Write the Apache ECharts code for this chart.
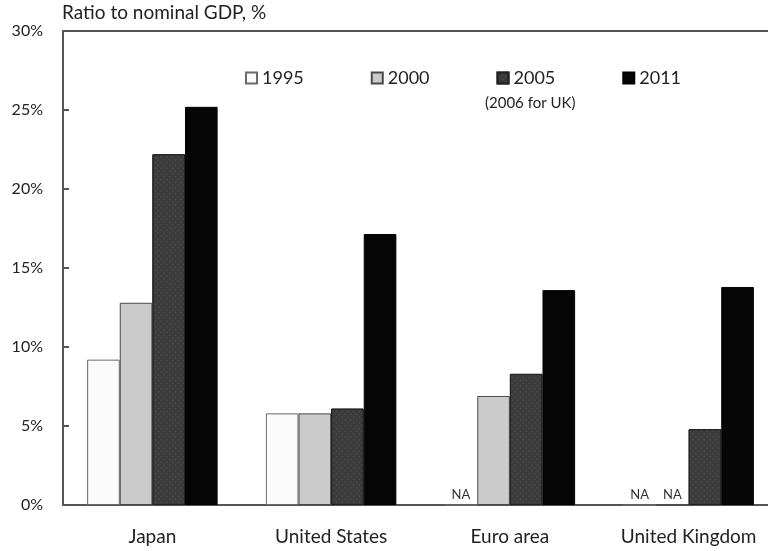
<!DOCTYPE html>
<html><head><meta charset="utf-8">
<script src="https://cdn.jsdelivr.net/npm/echarts@6/dist/echarts.min.js"></script>
<style>html,body{margin:0;padding:0;background:#fff}#c{width:768px;height:551px}</style>
</head><body><div id="c"></div>
<script>
const categories = ['Japan', 'United States', 'Euro area', 'United Kingdom'];
const seriesNames = ['1995', '2000', '2005', '2011'];
const v1995 = [9.2, 5.8, null, null];
const v2000 = [12.8, 5.8, 6.9, null];
const v2005 = [22.2, 6.1, 8.3, 4.8];
const v2011 = [25.2, 17.15, 13.6, 13.8];
const yTicks = [0, 5, 10, 15, 20, 25, 30];

const FONT = 'Lato, "Open Sans", sans-serif';
const styles = [
  {color: '#fbfbfb', borderColor: '#6a6a6a', borderWidth: 1},
  {color: '#cbcbcb', borderColor: '#4a4a4a', borderWidth: 1},
  {color: '#3a3a3a', borderColor: '#222', borderWidth: 1,
   decal: {symbol: 'circle', symbolSize: 0.6, color: 'rgba(150,150,150,0.55)', dashArrayX: [2, 2], dashArrayY: [2, 2], rotation: 0.785}},
  {color: '#050505', borderColor: '#000', borderWidth: 1}
];
const allVals = [v1995, v2000, v2005, v2011];

const chart = echarts.init(document.getElementById('c'), null, {renderer: 'canvas'});
chart.setOption({
  backgroundColor: '#fff',
  animation: false,
  textStyle: {fontFamily: FONT},
  grid: {left: 63, top: 31, bottom: 46, width: 715, outerBoundsMode: 'none', containLabel: false, show: true, borderColor: '#555', borderWidth: 2, backgroundColor: 'transparent'},
  legend: {
    left: 240, top: 64, itemWidth: 11, itemHeight: 11, itemGap: 67, icon: 'rect',
    textStyle: {fontSize: 18, color: '#222', fontFamily: FONT},
    data: seriesNames
  },
  graphic: [
    {type: 'text', left: 485, top: 96, style: {text: '(2006 for UK)', fontSize: 15, fill: '#222', fontFamily: FONT}},
    {type: 'text', left: 62, top: 3, style: {text: 'Ratio to nominal GDP, %', fontSize: 19, fill: '#222', fontFamily: FONT}}
  ],
  xAxis: {
    type: 'category', data: categories,
    axisLine: {lineStyle: {color: '#555', width: 2}},
    axisTick: {inside: true, length: 7, lineStyle: {color: '#555', width: 2}},
    axisLabel: {interval: 0, hideOverlap: false, fontSize: 19, color: '#222', margin: 22, fontFamily: FONT}
  },
  yAxis: {
    type: 'value', min: yTicks[0], max: yTicks[yTicks.length - 1], interval: 5,
    axisLine: {show: true, lineStyle: {color: '#555', width: 2}},
    axisTick: {show: true, inside: true, length: 6, lineStyle: {color: '#555', width: 2}},
    splitLine: {show: false},
    axisLabel: {fontSize: 16, color: '#222', margin: 20, formatter: '{value}%', fontFamily: FONT}
  },
  series: seriesNames.map((n, i) => ({
    name: n, type: 'bar', barGap: '0%', barCategoryGap: '27%',
    itemStyle: styles[i],
    data: allVals[i].map(v => v === null ? {value: 0, label: {show: true, position: 'top', distance: 3, formatter: 'NA', fontSize: 13, color: '#333', fontFamily: FONT}} : v)
  }))
});
</script></body></html>
